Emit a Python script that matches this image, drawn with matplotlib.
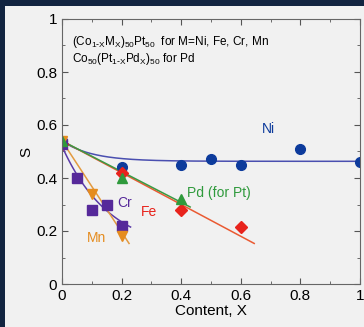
import matplotlib.pyplot as plt
import numpy as np

plt.rcParams["font.family"] = ["Liberation Sans", "DejaVu Sans"]
plt.rcParams["mathtext.default"] = "regular"

# measured points
ni_x = [0, 0.2, 0.4, 0.5, 0.6, 0.8, 1.0]
ni_s = [0.54, 0.44, 0.45, 0.47, 0.45, 0.51, 0.46]
fe_x = [0, 0.2, 0.4, 0.6]
fe_s = [0.53, 0.42, 0.28, 0.215]
pd_x = [0, 0.2, 0.4]
pd_s = [0.54, 0.40, 0.32]
cr_x = [0.05, 0.1, 0.15, 0.2]
cr_s = [0.40, 0.28, 0.30, 0.22]
mn_x = [0.1, 0.2]
mn_s = [0.34, 0.18]

# fitted guide lines (offset, amplitude, decay length, x range)
ni_fit = (0.463, 0.077, 0.1, 1.0)
cr_fit = (0.12, 0.40, 0.16, 0.23)
fe_line = (0.54, -0.60, 0.645)
pd_line = (0.54, -0.58, 0.43)
mn_line = (0.54, -1.72, 0.225)

C_NI, C_FE, C_PD, C_CR, C_MN = "#0d3b9c", "#e8231c", "#2f9a3c", "#56299a", "#e58c1f"

fig = plt.figure(figsize=(3.64, 3.27), dpi=100)
fig.patch.set_facecolor("#122440")
fig.patches.append(plt.Rectangle((5 / 364, 0), 1, 1 - 6 / 327, transform=fig.transFigure,
                                 facecolor="#f1f1f1", edgecolor="none", zorder=-1))
ax = fig.add_axes([62 / 364, 1 - 284 / 327, 298 / 364, 265 / 327])
ax.set_facecolor("#f1f1f1")

xx = np.linspace(0, ni_fit[3], 200)
ax.plot(xx, ni_fit[0] + ni_fit[1] * np.exp(-xx / ni_fit[2]), color="#4a4fb0", lw=1.1)
xx = np.linspace(0, cr_fit[3], 100)
ax.plot(xx, cr_fit[0] + cr_fit[1] * np.exp(-xx / cr_fit[2]), color="#5a3aa8", lw=1.1)
for (a, b, end), color in [(fe_line, "#ea5a32"), (pd_line, "#3a9a44"), (mn_line, "#e39a40")]:
    xx = np.array([0, end])
    ax.plot(xx, a + b * xx, color=color, lw=1.1)

ax.plot(ni_x, ni_s, "o", color=C_NI, ms=7)
ax.plot(fe_x, fe_s, "D", color=C_FE, ms=6)
ax.plot(cr_x, cr_s, "s", color=C_CR, ms=6.5)
ax.plot([0], [0.53], "s", color=C_CR, ms=6.5)
ax.plot(mn_x, mn_s, "v", color=C_MN, ms=7)
ax.plot([0], [0.54], "v", color=C_MN, ms=7)
ax.plot(pd_x, pd_s, "^", color=C_PD, ms=7)

ax.text(0.67, 0.57, "Ni", color=C_NI, fontsize=10)
ax.text(0.42, 0.33, "Pd (for Pt)", color=C_PD, fontsize=10)
ax.text(0.265, 0.255, "Fe", color=C_FE, fontsize=10)
ax.text(0.185, 0.29, "Cr", color=C_CR, fontsize=10)
ax.text(0.085, 0.16, "Mn", color=C_MN, fontsize=10)
ax.text(0.035, 0.945, r"(Co$_{1\text{-}X}$M$_X$)$_{50}$Pt$_{50}$  for M=Ni, Fe, Cr, Mn",
        transform=ax.transAxes, fontsize=8.5, va="top")
ax.text(0.035, 0.88, r"Co$_{50}$(Pt$_{1\text{-}X}$Pd$_X$)$_{50}$ for Pd",
        transform=ax.transAxes, fontsize=8.5, va="top")

ax.set_xlim(0, 1)
ax.set_ylim(0, 1)
ax.set_xticks([0, 0.2, 0.4, 0.6, 0.8, 1], ["0", "0.2", "0.4", "0.6", "0.8", "1"])
ax.set_yticks([0, 0.2, 0.4, 0.6, 0.8, 1], ["0", "0.2", "0.4", "0.6", "0.8", "1"])
ax.set_xticks(np.arange(0.1, 1, 0.2), minor=True)
ax.set_yticks(np.arange(0.1, 1, 0.2), minor=True)
ax.tick_params(which="both", direction="in", top=True, right=True, labelsize=11, color="#555555")
ax.tick_params(which="major", length=4)
ax.tick_params(which="minor", length=2.5)
for sp in ax.spines.values():
    sp.set_color("#666666")
ax.set_xlabel("Content, X", fontsize=11, labelpad=1)
ax.set_ylabel("S", fontsize=11, labelpad=2)

fig.savefig("out.png", dpi=100, facecolor=fig.get_facecolor())
